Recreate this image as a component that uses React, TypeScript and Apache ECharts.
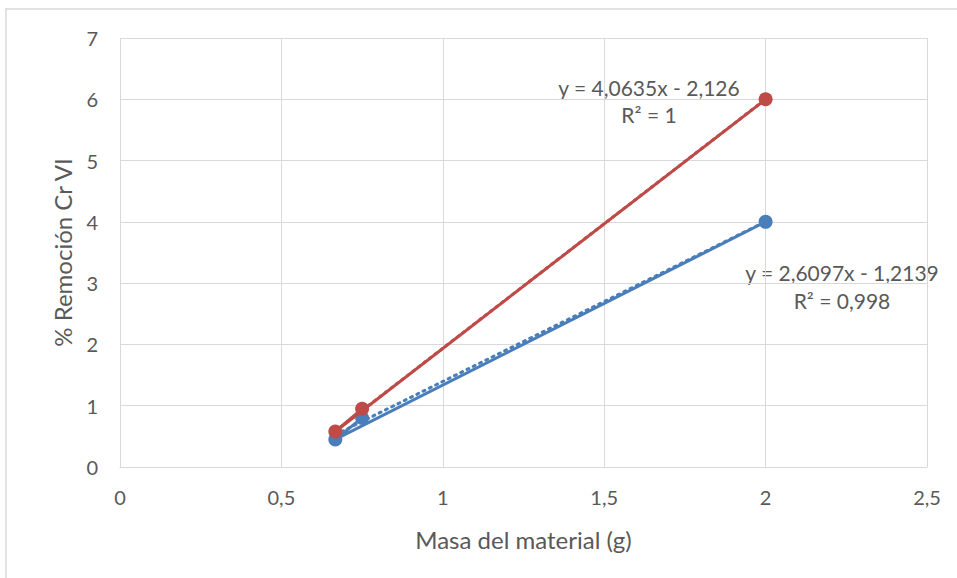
import React, { useEffect, useRef } from "react";
import * as echarts from "echarts";

const masaX = [0.75, 0.667, 2];
const serieAzul = [0.8, 0.45, 4];
const serieRoja = [0.95, 0.58, 6];
const tendAzul = { m: 2.6097, b: -1.2139, r2: "0,998" };
const tendRoja = { m: 4.0635, b: -2.126, r2: "1" };

const BLUE = "#4A7EBB";
const RED = "#BE4B48";
const FONT = "Lato";
const GRAY = "#595959";
const fmt = (v: number) => String(v).replace(".", ",");
const eq = (t: { m: number; b: number }) =>
  `y = ${fmt(t.m)}x ${t.b < 0 ? "-" : "+"} ${fmt(Math.abs(t.b))}`;

export default function App() {
  const ref = useRef<HTMLDivElement>(null);
  useEffect(() => {
    const chart = echarts.init(ref.current!, undefined, { renderer: "svg" });
    const xs = [Math.min(...masaX), Math.max(...masaX)];
    const trend = (t: { m: number; b: number }) => xs.map((x) => [x, t.m * x + t.b]);
    const txt = (text: string, x: number, y: number) => ({
      type: "text",
      x,
      y,
      style: { text, fontFamily: FONT, fontSize: 21, fill: GRAY, align: "center", verticalAlign: "middle" },
    });
    chart.setOption({
      animation: false,
      backgroundColor: "#fff",
      grid: { left: 120, right: 30, top: 38, bottom: 111 },
      xAxis: {
        type: "value",
        min: 0,
        max: 2.5,
        interval: 0.5,
        name: "Masa del material (g)",
        nameLocation: "middle",
        nameGap: 60,
        nameTextStyle: { fontFamily: FONT, fontSize: 24, color: GRAY },
        axisLine: { show: true, lineStyle: { color: "#D9D9D9", width: 1 } },
        axisTick: { show: false },
        axisLabel: {
          margin: 20,
          fontFamily: FONT,
          fontSize: 20,
          color: GRAY,
          formatter: (v: number) => fmt(v),
        },
        splitLine: { show: true, lineStyle: { color: "#D9D9D9", width: 1 } },
      },
      yAxis: {
        type: "value",
        min: 0,
        max: 7,
        interval: 1,
        name: "% Remoción Cr VI",
        nameLocation: "middle",
        nameGap: 46,
        nameTextStyle: { fontFamily: FONT, fontSize: 24, color: GRAY },
        axisLine: { show: false },
        axisTick: { show: false },
        axisLabel: { margin: 22, fontFamily: FONT, fontSize: 20, color: GRAY },
        splitLine: { show: true, lineStyle: { color: "#D9D9D9", width: 1 } },
      },
      series: [
        {
          type: "line",
          data: masaX.map((x, i) => [x, serieAzul[i]]),
          lineStyle: { color: BLUE, width: 3 },
          itemStyle: { color: BLUE },
          symbol: "circle",
          symbolSize: 14,
          z: 3,
        },
        {
          type: "line",
          data: trend(tendAzul),
          lineStyle: { color: BLUE, width: 3, type: [2, 5], cap: "round" },
          symbol: "none",
          z: 2,
        },
        {
          type: "line",
          data: masaX.map((x, i) => [x, serieRoja[i]]),
          lineStyle: { color: RED, width: 3 },
          itemStyle: { color: RED },
          symbol: "circle",
          symbolSize: 14,
          z: 4,
        },
        {
          type: "line",
          data: trend(tendRoja),
          lineStyle: { color: RED, width: 3, type: [2, 5], cap: "round" },
          symbol: "none",
          z: 5,
        },
      ],
      graphic: [
        {
          type: "rect",
          shape: { x: 6, y: 9, width: 1000, height: 1000 },
          style: { fill: "none", stroke: "#D9D9D9", lineWidth: 1.5 },
          silent: true,
        },
        txt(eq(tendRoja), 649, 87),
        txt(`R² = ${tendRoja.r2}`, 649, 114),
        txt(eq(tendAzul), 842, 272),
        txt(`R² = ${tendAzul.r2}`, 842, 300),
      ],
    });
    return () => chart.dispose();
  }, []);
  return <div ref={ref} style={{ width: 957, height: 578, position: "absolute", left: 0, top: 0 }} />;
}
